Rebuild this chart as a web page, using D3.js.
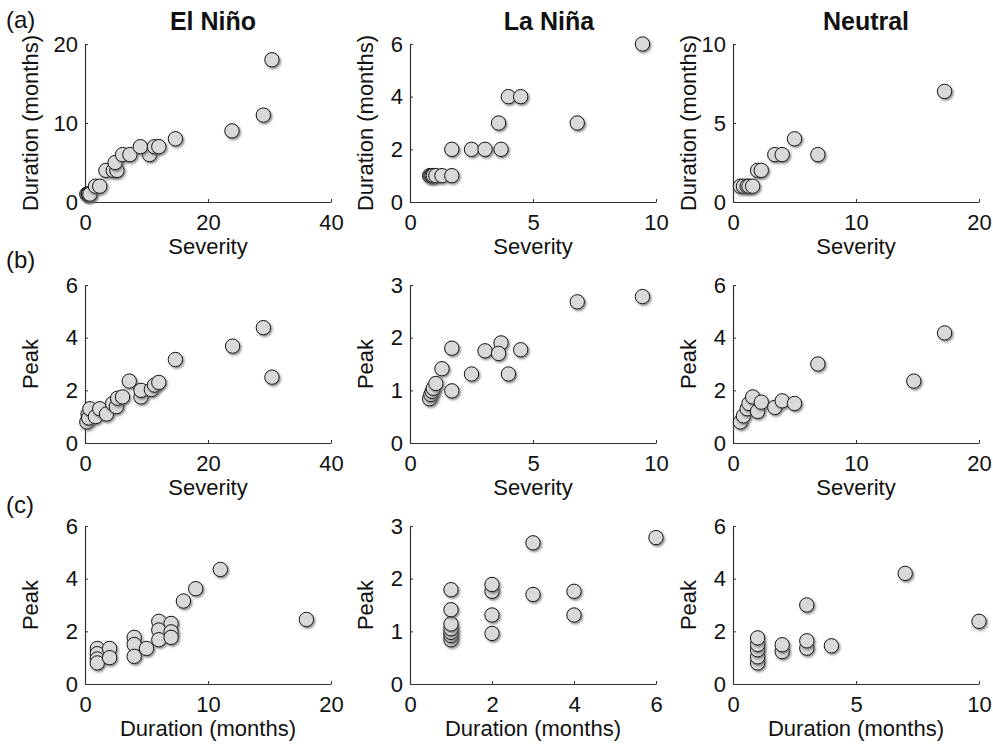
<!DOCTYPE html>
<html>
<head>
<meta charset="utf-8">
<script src="https://cdn.jsdelivr.net/npm/d3@7.9.0/dist/d3.min.js"></script>
<style>
  body { margin: 0; background: #fff; }
  svg text { font-family: "Liberation Sans", Arial, Helvetica, sans-serif; fill: #111; }
</style>
</head>
<body>
<svg id="chart" width="993" height="746"></svg>
<script>
// phase titles and row labels
const phases = ['El Niño', 'La Niña', 'Neutral'];
const rowLabels = ['(a)', '(b)', '(c)'];

// (a) severity vs duration, [severity, months]
const elNinoSevDur = [[0.3,1],[0.5,1],[0.6,1],[0.8,1],[1.7,2],[2.4,2],[3.4,4],[4.6,4],[5.2,4],[4.9,5],
  [6.1,6],[7.3,6],[10.5,6],[9.0,7],[11.3,7],[12.0,7],[14.7,8],[23.9,9],[29.0,11],[30.4,18]];
const laNinaSevDur = [[0.8,1],[0.85,1],[0.9,1],[0.95,1],[1.05,1],[1.3,1],[1.7,1],[1.7,2],[2.5,2],[3.05,2],
  [3.7,2],[3.6,3],[6.8,3],[4.0,4],[4.5,4],[9.45,6]];
const neutralSevDur = [[0.6,1],[0.85,1],[1.15,1],[1.3,1],[1.6,1],[2.0,2],[2.3,2],[3.4,3],[4.0,3],[5.0,4],
  [6.9,3],[17.2,7]];

// (b) severity vs peak
const elNinoSevPeak = [[0.3,0.8],[0.5,1.1],[0.6,0.95],[0.8,1.3],[1.7,1.0],[2.4,1.3],[3.5,1.1],[4.5,1.5],
  [5.1,1.38],[5.3,1.7],[6.1,1.75],[7.2,2.35],[9.1,1.75],[9.1,2.0],[10.8,2.03],[11.3,2.2],[12.0,2.3],
  [14.7,3.17],[24.0,3.68],[29.0,4.38],[30.4,2.5]];
const laNinaSevPeak = [[0.8,0.84],[0.85,0.92],[0.9,0.98],[0.95,1.04],[1.05,1.13],[1.3,1.41],[1.7,1.8],
  [1.7,0.99],[2.5,1.31],[3.05,1.75],[3.7,1.9],[3.6,1.7],[6.8,2.68],[4.0,1.31],[4.5,1.77],[9.45,2.78]];
const neutralSevPeak = [[0.6,0.8],[0.85,1.03],[1.15,1.3],[1.3,1.5],[1.6,1.75],[2.0,1.2],[2.3,1.55],
  [3.4,1.35],[4.0,1.6],[5.0,1.5],[6.9,3.0],[14.7,2.35],[17.2,4.18]];

// (c) duration vs peak
const elNinoDurPeak = [[1,1.35],[1,1.15],[1,0.95],[1,0.8],[2,1.35],[2,1.0],[4,1.77],[4,1.5],[4,1.05],
  [5,1.35],[6,2.38],[6,2.05],[6,1.68],[7,2.3],[7,1.98],[7,1.77],[8,3.15],[9,3.62],[11,4.35],[18,2.45]];
const laNinaDurPeak = [[1,0.84],[1,0.92],[1,0.98],[1,1.05],[1,1.14],[1,1.41],[1,1.79],[2,0.96],[2,1.31],
  [2,1.76],[2,1.89],[3,1.7],[3,2.68],[4,1.31],[4,1.76],[6,2.78]];
const neutralDurPeak = [[1,0.8],[1,1.03],[1,1.3],[1,1.5],[1,1.75],[2,1.23],[2,1.49],[3,1.36],[3,1.64],
  [3,3.0],[4,1.45],[7,4.2],[10,2.38]];

// tick values per axis
const elNinoSevTicks = [0, 20, 40];
const laNinaSevTicks = [0, 5, 10];
const neutralSevTicks = [0, 10, 20];
const elNinoDurTicks = [0, 10, 20];
const laNinaDurTicks = [0, 2, 4, 6];
const neutralDurTicks = [0, 5, 10];
const elNinoPeakTicks = [0, 2, 4, 6];
const laNinaPeakTicks = [0, 1, 2, 3];
const neutralPeakTicks = [0, 2, 4, 6];

const durLabel = 'Duration (months)';

// one entry per panel, rows then columns
const panels = [
  { data: elNinoSevDur, xt: elNinoSevTicks, yt: elNinoDurTicks, xl: 'Severity', yl: durLabel },
  { data: laNinaSevDur, xt: laNinaSevTicks, yt: laNinaDurTicks, xl: 'Severity', yl: durLabel },
  { data: neutralSevDur, xt: neutralSevTicks, yt: neutralDurTicks, xl: 'Severity', yl: durLabel },
  { data: elNinoSevPeak, xt: elNinoSevTicks, yt: elNinoPeakTicks, xl: 'Severity', yl: 'Peak' },
  { data: laNinaSevPeak, xt: laNinaSevTicks, yt: laNinaPeakTicks, xl: 'Severity', yl: 'Peak' },
  { data: neutralSevPeak, xt: neutralSevTicks, yt: neutralPeakTicks, xl: 'Severity', yl: 'Peak' },
  { data: elNinoDurPeak, xt: elNinoDurTicks, yt: elNinoPeakTicks, xl: durLabel, yl: 'Peak' },
  { data: laNinaDurPeak, xt: laNinaDurTicks, yt: laNinaPeakTicks, xl: durLabel, yl: 'Peak' },
  { data: neutralDurPeak, xt: neutralDurTicks, yt: neutralPeakTicks, xl: durLabel, yl: 'Peak' },
];

const colX = [85, 410, 733];
const rowY = [44, 285, 526];
const pw = 246, ph = 158;
const ylabOffset = [-47, -37, -37];   // baseline of rotated y label, per column
const titleShift = [5, 16, 10];

const svg = d3.select('#chart');

// soft drop shadow for markers
const filt = svg.append('defs').append('filter')
  .attr('id', 'shadow').attr('x', '-50%').attr('y', '-50%').attr('width', '200%').attr('height', '200%');
filt.append('feDropShadow')
  .attr('dx', 1.3).attr('dy', 1.6).attr('stdDeviation', 0.9)
  .attr('flood-color', '#666').attr('flood-opacity', 0.8);

panels.forEach((p, i) => {
  const r = Math.floor(i / 3), c = i % 3;
  const g = svg.append('g').attr('transform', `translate(${colX[c]},${rowY[r]})`);

  const x = d3.scaleLinear().domain(d3.extent(p.xt)).range([0, pw]);
  const y = d3.scaleLinear().domain(d3.extent(p.yt)).range([ph, 0]);

  // axes with small inward ticks
  const xa = g.append('g').attr('transform', `translate(0,${ph})`)
    .call(d3.axisBottom(x).tickValues(p.xt).tickFormat(d3.format('~g'))
      .tickSizeInner(-3).tickSizeOuter(0).tickPadding(12));
  const ya = g.append('g')
    .call(d3.axisLeft(y).tickValues(p.yt).tickFormat(d3.format('~g'))
      .tickSizeInner(-3).tickSizeOuter(0).tickPadding(7));
  [xa, ya].forEach(a => {
    a.select('.domain').attr('stroke', '#333').attr('stroke-width', 1.2);
    a.selectAll('.tick line').attr('stroke', '#333');
    a.selectAll('.tick text').attr('font-size', 22).attr('fill', '#111')
      .attr('font-family', '"Liberation Sans", Arial, sans-serif');
  });

  // axis labels
  g.append('text')
    .attr('x', pw / 2).attr('y', ph + 52)
    .attr('text-anchor', 'middle').attr('font-size', 22)
    .text(p.xl);
  g.append('text')
    .attr('transform', `translate(${ylabOffset[c]},${ph / 2}) rotate(-90)`)
    .attr('text-anchor', 'middle').attr('font-size', 22)
    .text(p.yl);

  // markers
  g.selectAll('circle.pt')
    .data(p.data)
    .join('circle')
    .attr('class', 'pt')
    .attr('cx', d => x(d[0]))
    .attr('cy', d => y(d[1]))
    .attr('r', 7.2)
    .attr('fill', '#d9d9d9')
    .attr('stroke', '#111')
    .attr('stroke-width', 1)
    .attr('filter', 'url(#shadow)');

  if (r === 0) {
    g.append('text')
      .attr('x', pw / 2 + titleShift[c]).attr('y', -14)
      .attr('text-anchor', 'middle').attr('font-size', 25).attr('font-weight', 'bold')
      .text(phases[c]);
  }
});

// row labels
rowLabels.forEach((t, r) => {
  svg.append('text')
    .attr('x', 6).attr('y', [28, 268, 513][r])
    .attr('font-size', 24)
    .text(t);
});
</script>
</body>
</html>
